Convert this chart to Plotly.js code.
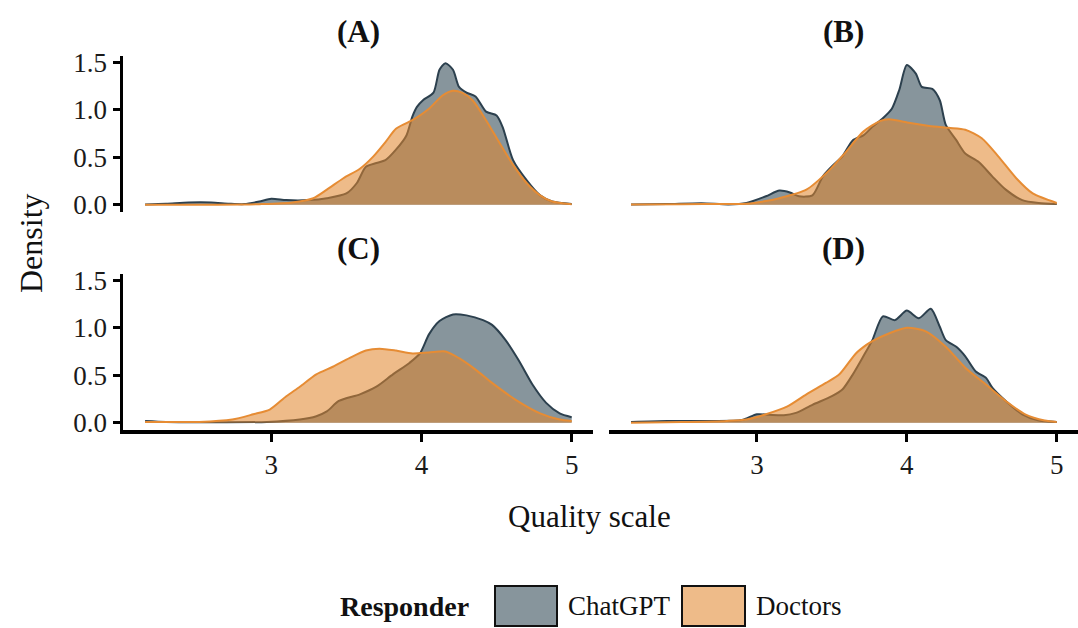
<!DOCTYPE html>
<html>
<head>
<meta charset="utf-8">
<script src="https://cdn.plot.ly/plotly-3.0.1.min.js"></script>
<style>html,body{margin:0;padding:0;background:#fff;}#chart{width:1078px;height:628px;}</style>
</head>
<body>
<div id="chart"></div>
<script>
// ---- Data ----
const panels = ["(A)", "(B)", "(C)", "(D)"];
const responders = ["ChatGPT", "Doctors"];

const xA_gpt = [2.16,2.3,2.45,2.6,2.72,2.82,2.92,3.0,3.1,3.25,3.37,3.5,3.57,3.63,3.7,3.76,3.83,3.9,3.94,3.97,4.01,4.08,4.12,4.16,4.21,4.25,4.3,4.36,4.43,4.5,4.54,4.61,4.7,4.79,4.87,5.0];
const yA_gpt = [0.005,0.012,0.025,0.025,0.012,0.008,0.035,0.065,0.05,0.05,0.07,0.12,0.23,0.40,0.44,0.47,0.58,0.73,0.93,1.03,1.10,1.18,1.42,1.49,1.42,1.24,1.18,1.14,0.98,0.94,0.82,0.47,0.26,0.10,0.035,0.01];
const xA_doc = [2.16,2.5,2.8,2.92,3.14,3.28,3.37,3.48,3.59,3.68,3.76,3.83,3.9,3.96,4.05,4.14,4.21,4.27,4.34,4.43,4.52,4.61,4.7,4.79,4.87,5.0];
const yA_doc = [0.0,0.0,0.003,0.007,0.025,0.07,0.16,0.28,0.38,0.51,0.66,0.80,0.86,0.91,1.01,1.15,1.20,1.18,1.10,0.89,0.65,0.42,0.23,0.10,0.035,0.007];

const xB_gpt = [2.16,2.4,2.63,2.81,2.93,3.06,3.15,3.22,3.28,3.37,3.44,3.51,3.57,3.64,3.71,3.77,3.84,3.9,3.95,4.0,4.06,4.1,4.17,4.22,4.26,4.33,4.39,4.48,4.57,4.66,4.77,4.88,5.0];
const yB_gpt = [0.003,0.008,0.018,0.005,0.02,0.09,0.15,0.13,0.09,0.10,0.30,0.42,0.51,0.68,0.73,0.82,0.91,1.01,1.21,1.47,1.38,1.24,1.22,1.10,0.84,0.68,0.54,0.45,0.30,0.16,0.05,0.02,0.01];
const xB_doc = [2.16,2.5,2.8,2.93,3.06,3.15,3.33,3.48,3.59,3.71,3.82,3.88,3.99,4.15,4.28,4.39,4.5,4.61,4.73,4.84,5.0];
const yB_doc = [0.003,0.006,0.01,0.012,0.04,0.07,0.16,0.36,0.55,0.77,0.88,0.90,0.87,0.83,0.81,0.79,0.70,0.51,0.28,0.12,0.02];

const xC_gpt = [2.16,2.3,2.52,2.97,3.19,3.3,3.37,3.45,3.59,3.7,3.81,3.92,3.99,4.05,4.12,4.21,4.3,4.41,4.47,4.56,4.65,4.74,4.83,4.92,5.0];
const yC_gpt = [0.02,0.01,0.007,0.01,0.035,0.07,0.12,0.23,0.30,0.38,0.51,0.63,0.73,0.93,1.07,1.14,1.13,1.08,1.03,0.87,0.65,0.40,0.21,0.10,0.06];
const xC_doc = [2.16,2.52,2.74,2.88,2.99,3.1,3.19,3.3,3.41,3.52,3.63,3.72,3.83,3.94,4.05,4.16,4.25,4.36,4.47,4.63,4.79,4.92,5.0];
const yC_doc = [0.01,0.01,0.035,0.09,0.14,0.28,0.38,0.51,0.59,0.68,0.76,0.78,0.76,0.73,0.74,0.75,0.68,0.56,0.42,0.24,0.10,0.035,0.02];

const xD_gpt = [2.16,2.4,2.7,2.9,3.0,3.08,3.18,3.26,3.37,3.5,3.57,3.64,3.71,3.77,3.84,3.92,4.0,4.08,4.16,4.22,4.26,4.33,4.39,4.46,4.53,4.57,4.66,4.77,4.88,5.0];
const yD_gpt = [0.01,0.02,0.02,0.03,0.09,0.085,0.08,0.105,0.19,0.28,0.35,0.51,0.70,0.87,1.12,1.08,1.18,1.10,1.20,1.01,0.87,0.80,0.70,0.54,0.47,0.37,0.23,0.09,0.025,0.01];
const xD_doc = [2.16,2.5,2.8,2.93,3.06,3.2,3.33,3.46,3.55,3.66,3.73,3.77,3.88,4.0,4.13,4.26,4.39,4.53,4.66,4.79,4.92,5.0];
const yD_doc = [0.002,0.008,0.02,0.035,0.09,0.17,0.30,0.42,0.51,0.73,0.82,0.86,0.94,1.00,0.96,0.80,0.58,0.40,0.23,0.09,0.025,0.01];

const xTicks = [3, 4, 5];
const xTickText = ["3", "4", "5"];
const yTicks = [0, 0.5, 1, 1.5];
const yTickText = ["0.0", "0.5", "1.0", "1.5"];

// ---- Styling ----
const FONT = "Liberation Serif, Times New Roman, serif";
const GPT_LINE = "rgb(44,64,78)";
const GPT_FILL = "rgba(41,66,78,0.56)";
const DOC_LINE = "rgb(230,140,52)";
const DOC_FILL = "rgba(225,133,45,0.56)";

const series = [
  [xA_gpt, yA_gpt, xA_doc, yA_doc],
  [xB_gpt, yB_gpt, xB_doc, yB_doc],
  [xC_gpt, yC_gpt, xC_doc, yC_doc],
  [xD_gpt, yD_gpt, xD_doc, yD_doc]
];

const traces = [];
series.forEach((s, i) => {
  const ax = i === 0 ? "" : String(i + 1);
  traces.push({
    type: "scatter", mode: "lines", x: s[0], y: s[1], name: responders[0],
    xaxis: "x" + ax, yaxis: "y" + ax, fill: "tozeroy", fillcolor: GPT_FILL,
    line: {color: GPT_LINE, width: 2, shape: "spline", smoothing: 0.7},
    showlegend: false, hoverinfo: "x+y+name"
  });
  traces.push({
    type: "scatter", mode: "lines", x: s[2], y: s[3], name: responders[1],
    xaxis: "x" + ax, yaxis: "y" + ax, fill: "tozeroy", fillcolor: DOC_FILL,
    line: {color: DOC_LINE, width: 2, shape: "spline", smoothing: 0.7},
    showlegend: false, hoverinfo: "x+y+name"
  });
});

const W = 1078, H = 628;
const px = v => v / W;
const py = v => 1 - v / H;

const xRange = [2.013, 5.142];
const yRange = [-0.075, 1.565];

const xDomL = [px(123), px(593)];
const xDomR = [px(609), 1.0];
const yDomT = [py(212), py(56)];
const yDomB = [py(430), py(274)];

function xAxis(dom, show, anchor) {
  return {
    domain: dom, range: xRange, anchor: anchor, showgrid: false, zeroline: false,
    showline: show, linecolor: "#000", linewidth: 3.5,
    ticks: show ? "outside" : "", ticklen: 8, tickwidth: 3, tickcolor: "#000",
    tickvals: xTicks, ticktext: xTickText, showticklabels: show,
    tickfont: {family: FONT, size: 27, color: "#1a1a1a"}
  };
}
function yAxis(dom, show, anchor) {
  return {
    domain: dom, range: yRange, anchor: anchor, showgrid: false, zeroline: false,
    showline: show, linecolor: "#000", linewidth: 3.5,
    ticks: show ? "outside" : "", ticklen: 7, tickwidth: 3, tickcolor: "#000",
    tickvals: yTicks, ticktext: yTickText, showticklabels: show,
    tickfont: {family: FONT, size: 27, color: "#1a1a1a"}
  };
}

const annFont = (size, bold) => ({family: FONT, size: size, color: "#111", weight: bold ? "bold" : "normal"});

const annotations = [
  {text: panels[0], x: (xDomL[0] + xDomL[1]) / 2, y: py(31)},
  {text: panels[1], x: (xDomR[0] + xDomR[1]) / 2, y: py(31)},
  {text: panels[2], x: (xDomL[0] + xDomL[1]) / 2, y: py(249)},
  {text: panels[3], x: (xDomR[0] + xDomR[1]) / 2, y: py(249)}
].map(a => Object.assign(a, {xref: "paper", yref: "paper", showarrow: false, xanchor: "center", yanchor: "middle", font: annFont(31, true)}));

annotations.push({text: "Density", xref: "paper", yref: "paper", x: px(31), y: py(243), textangle: -90, showarrow: false, xanchor: "center", yanchor: "middle", font: annFont(32, false)});
annotations.push({text: "Quality scale", xref: "paper", yref: "paper", x: px(589), y: py(516), showarrow: false, xanchor: "center", yanchor: "middle", font: annFont(31, false)});

// Legend (drawn as boxes + labels)
annotations.push({text: "Responder", xref: "paper", yref: "paper", x: px(338), y: py(606), showarrow: false, xanchor: "left", yanchor: "middle", font: annFont(28, true)});
annotations.push({text: responders[0], xref: "paper", yref: "paper", x: px(566), y: py(606), showarrow: false, xanchor: "left", yanchor: "middle", font: annFont(27, false)});
annotations.push({text: responders[1], xref: "paper", yref: "paper", x: px(754), y: py(606), showarrow: false, xanchor: "left", yanchor: "middle", font: annFont(27, false)});

const shapes = [
  {type: "rect", xref: "paper", yref: "paper", x0: px(495), x1: px(557), y0: py(626), y1: py(586), fillcolor: GPT_FILL, line: {color: "#111", width: 2}},
  {type: "rect", xref: "paper", yref: "paper", x0: px(682), x1: px(745), y0: py(626), y1: py(586), fillcolor: DOC_FILL, line: {color: "#111", width: 2}}
];

const layout = {
  width: W, height: H,
  margin: {l: 0, r: 0, t: 0, b: 0},
  paper_bgcolor: "#fff", plot_bgcolor: "#fff",
  showlegend: false,
  xaxis: xAxis(xDomL, false, "y"),
  yaxis: yAxis(yDomT, true, "x"),
  xaxis2: xAxis(xDomR, false, "y2"),
  yaxis2: yAxis(yDomT, false, "x2"),
  xaxis3: xAxis(xDomL, true, "y3"),
  yaxis3: yAxis(yDomB, true, "x3"),
  xaxis4: xAxis(xDomR, true, "y4"),
  yaxis4: yAxis(yDomB, false, "x4"),
  annotations: annotations,
  shapes: shapes
};

Plotly.newPlot("chart", traces, layout, {displayModeBar: false, staticPlot: true});
</script>
</body>
</html>
